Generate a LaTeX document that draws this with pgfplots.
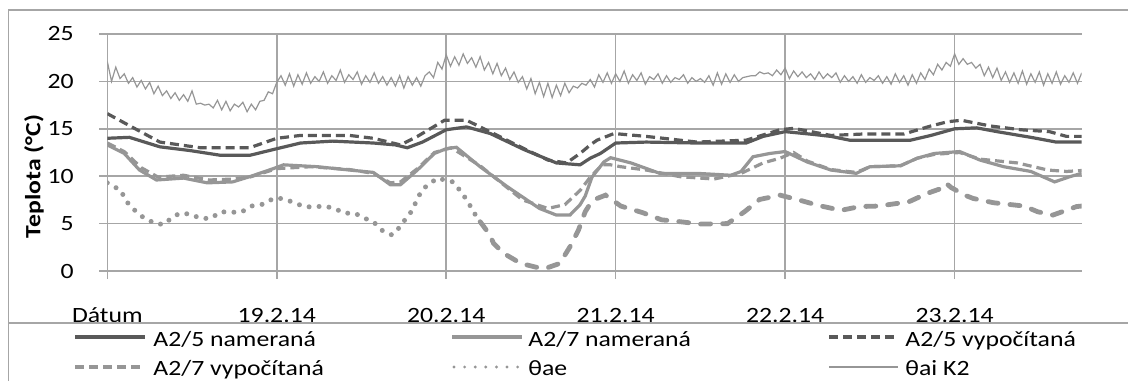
\documentclass[border=0pt]{standalone}
\usepackage{fontspec}
\setmainfont{Carlito}[FakeStretch=1.18]
\usepackage{pgfplots}
\pgfplotsset{compat=1.18}
\definecolor{dk}{RGB}{89,89,89}
\definecolor{lg}{RGB}{150,150,150}
\definecolor{gr}{RGB}{166,166,166}
\begin{document}
\fontsize{10.9pt}{13pt}\selectfont
\begin{tikzpicture}
\begin{axis}[
  at={(53.65pt,55pt)}, anchor=south west,
  scale only axis, width=487.2pt, height=118.5pt,
  xmin=0, xmax=5.75, ymin=0, ymax=25,
  xtick={0,1,2,3,4,5},
  xticklabels={Dátum,19.2.14,20.2.14,21.2.14,22.2.14,23.2.14},
  ytick={0,5,10,15,20,25},
  grid=major, major grid style={gr, line width=0.75pt},
  axis line style={draw=none},
  tick align=outside, major tick length=4pt,
  tick style={gr, line width=0.75pt},
  xtick pos=bottom, ytick pos=left,
  /pgf/number format/assume math mode=true,
  xticklabel style={inner sep=0pt, anchor=base, yshift=-21.85pt},
  yticklabel style={inner sep=0pt, anchor=east, xshift=-12.65pt},
]
% theta ai K2
\addplot[lg, line width=0.6pt] table[row sep=\\, x expr=\coordindex/40, y=t] {
t\\
22.1\\ 20.0\\ 21.5\\ 20.3\\ 20.8\\
19.8\\ 20.4\\ 19.4\\ 20.1\\ 19.2\\ 19.9\\
18.7\\ 19.5\\ 18.5\\ 19.0\\ 18.2\\ 18.8\\ 18.0\\ 18.6\\ 17.9\\ 19.0\\
17.6\\ 17.7\\ 17.5\\ 17.6\\ 17.2\\ 18.0\\ 17.0\\ 17.9\\ 16.9\\ 17.6\\ 17.3\\ 17.8\\ 16.8\\ 17.6\\ 17.0\\ 17.9\\
18.0\\ 18.9\\ 18.7\\ 19.9\\
20.6\\ 19.6\\ 20.8\\ 19.5\\ 20.7\\ 19.7\\ 20.9\\ 19.8\\ 20.5\\ 20.0\\
21.0\\ 19.8\\ 20.6\\ 20.1\\ 21.2\\ 19.9\\ 20.7\\ 20.2\\ 21.0\\ 19.7\\
20.6\\ 19.9\\ 20.9\\ 19.8\\ 20.5\\ 19.6\\ 20.4\\ 19.5\\ 20.6\\ 19.3\\
20.5\\ 19.6\\ 20.4\\ 19.5\\ 20.6\\
21.0\\ 20.4\\ 22.0\\ 21.3\\ 22.8\\ 21.6\\ 22.6\\ 21.7\\ 22.9\\ 21.9\\
22.5\\ 21.5\\ 22.6\\ 21.2\\ 22.0\\ 20.8\\ 21.9\\ 20.6\\ 21.4\\ 20.2\\
21.0\\ 19.9\\ 20.5\\ 19.2\\ 20.3\\ 18.7\\ 19.9\\ 18.4\\ 19.8\\ 18.3\\
19.6\\ 18.5\\ 19.8\\ 18.8\\ 19.5\\ 19.3\\ 19.8\\ 19.6\\ 20.2\\ 19.4\\
20.7\\ 19.9\\ 20.9\\ 19.8\\ 20.8\\
20.0\\ 21.1\\ 19.8\\ 20.7\\ 20.1\\ 20.9\\ 19.7\\ 20.5\\ 20.2\\ 20.8\\
19.8\\ 20.6\\ 19.9\\ 20.4\\ 20.2\\ 20.7\\ 19.8\\ 20.4\\ 20.0\\ 20.3\\
19.9\\ 20.6\\ 19.6\\ 20.9\\ 19.7\\ 20.8\\ 19.9\\ 20.7\\ 20.0\\ 20.4\\
20.5\\ 20.6\\
20.6\\ 21.0\\ 20.8\\ 20.9\\ 20.6\\ 21.2\\ 20.7\\ 21.4\\ 20.3\\ 21.1\\
20.5\\ 21.0\\ 20.4\\ 20.8\\ 20.2\\ 21.0\\ 20.3\\ 20.8\\ 20.4\\ 20.9\\
19.9\\ 20.6\\ 20.0\\ 20.5\\ 19.8\\ 20.7\\ 19.9\\ 20.4\\ 20.1\\ 20.6\\
19.8\\ 20.5\\ 19.7\\ 20.8\\ 19.9\\ 20.6\\ 19.6\\ 20.7\\ 19.8\\ 20.9\\ 20.2\\
21.3\\ 20.7\\ 21.8\\ 21.2\\ 22.0\\ 21.6\\ 22.9\\ 21.8\\ 22.4\\ 21.8\\
22.0\\ 21.4\\ 21.8\\ 20.6\\ 21.5\\ 20.4\\ 21.4\\ 20.1\\
21.0\\ 19.9\\ 20.9\\ 19.8\\ 21.1\\ 19.7\\ 20.8\\ 19.9\\ 21.0\\ 19.6\\
20.8\\ 19.8\\ 21.0\\ 19.7\\ 20.6\\ 19.9\\ 20.9\\ 19.8\\ 20.9\\
};
% theta ae part 1
\addplot[lg, line width=2.5pt, line cap=round, dash pattern=on 0pt off 5pt] coordinates {
(0.0,9.3) (0.08,8.5) (0.11,7.4) (0.15,6.6) (0.2,5.8) (0.25,5.3) (0.29,4.95) (0.34,4.95)
(0.38,5.65) (0.43,6.1) (0.49,6.0) (0.55,5.55) (0.61,5.55) (0.67,6.25) (0.72,6.2) (0.79,6.2)
(0.85,6.85) (0.92,7.05) (0.98,7.65) (1.03,7.65) (1.09,7.3) (1.16,6.8) (1.21,6.75) (1.28,6.85)
(1.34,6.6) (1.4,6.1) (1.46,6.1) (1.52,5.55) (1.57,5.2) (1.62,4.3) (1.68,3.8) (1.73,4.7)
(1.76,5.5) (1.8,6.4) (1.83,7.65) (1.86,8.6) (1.9,9.2) (1.95,9.8) (1.99,9.6) (2.04,9.4)
(2.09,8.3) (2.13,7.25) (2.16,6.25) (2.2,5.2)
};
% theta ae part 2
\addplot[lg, line width=2.4pt, line cap=round, dash pattern=on 5pt off 6pt] coordinates {
(2.2,5.2) (2.25,4.0) (2.28,2.9) (2.34,1.85) (2.44,0.8) (2.53,0.4) (2.59,0.3) (2.67,0.8)
(2.73,2.55) (2.78,4.3) (2.82,6.25) (2.85,7.1) (2.89,7.65) (2.94,8.0) (3.03,6.85) (3.16,6.15)
(3.27,5.4) (3.38,5.2) (3.5,4.95) (3.66,5.0) (3.76,6.25) (3.85,7.55) (3.97,8.0) (4.08,7.5)
(4.2,6.9) (4.33,6.4) (4.44,6.8) (4.55,6.85) (4.73,7.3) (4.84,8.2) (4.92,8.7) (4.95,9.25)
(4.98,8.8) (5.06,8.0) (5.11,7.65) (5.23,7.2) (5.41,6.85) (5.49,6.25) (5.58,5.9) (5.72,6.8) (5.75,6.85)
};
% A2/7 vypocitana
\addplot[lg, line width=1.6pt, dash pattern=on 4.5pt off 2.5pt] coordinates {
(0,13.5) (0.1,12.6) (0.2,10.9) (0.3,9.9) (0.45,10.1) (0.6,9.6) (0.74,9.7) (0.84,9.9)
(1.0,10.8) (1.2,11.0) (1.43,10.7) (1.57,10.3) (1.67,9.3) (1.73,9.4) (1.83,10.8) (1.93,12.5)
(2.03,13.0) (2.2,11.1) (2.45,7.5) (2.6,6.6) (2.7,7.0) (2.79,8.5) (2.85,9.9) (2.92,11.2)
(2.97,11.2) (3.03,11.0) (3.18,10.65) (3.38,9.95) (3.58,9.7) (3.74,10.3) (3.87,11.4) (3.97,11.9)
(4.05,12.5) (4.13,11.6) (4.27,10.7) (4.42,10.4) (4.5,11.0) (4.68,11.1) (4.78,11.9) (4.88,12.3)
(5.03,12.5) (5.15,11.8) (5.37,11.4) (5.55,10.65) (5.66,10.5) (5.75,10.6)
};
% A2/7 namerana
\addplot[lg, line width=1.6pt] coordinates {
(0,13.3) (0.1,12.4) (0.19,10.65) (0.29,9.6) (0.45,9.8) (0.59,9.3) (0.74,9.4) (0.84,9.95)
(0.98,10.8) (1.04,11.2) (1.24,11.0) (1.43,10.65) (1.57,10.4) (1.67,9.1) (1.73,9.1) (1.83,10.65)
(1.93,12.4) (2.0,12.9) (2.06,13.05) (2.2,11.0) (2.36,8.9) (2.55,6.6) (2.65,5.9) (2.73,5.9)
(2.79,7.0) (2.82,7.9) (2.86,9.9) (2.93,11.5) (2.97,11.95) (3.09,11.4) (3.26,10.3) (3.48,10.3)
(3.68,10.1) (3.74,10.5) (3.81,12.05) (3.91,12.4) (4.0,12.6) (4.13,11.5) (4.27,10.65) (4.42,10.3)
(4.5,11.0) (4.68,11.1) (4.78,11.9) (4.88,12.4) (5.03,12.6) (5.15,11.7) (5.29,11.0) (5.45,10.5)
(5.59,9.4) (5.68,9.95) (5.75,10.3)
};
% A2/5 vypocitana
\addplot[dk, line width=1.6pt, dash pattern=on 4.5pt off 2.5pt] coordinates {
(0,16.6) (0.16,15.05) (0.31,13.6) (0.55,13.0) (0.84,13.0) (1.0,14.0) (1.14,14.3) (1.43,14.3)
(1.57,14.0) (1.73,13.3) (1.83,14.2) (1.99,15.9) (2.12,15.9) (2.2,15.2) (2.46,12.9) (2.6,11.7)
(2.71,11.4) (2.79,12.4) (2.85,13.3) (2.89,13.8) (2.99,14.5) (3.18,14.2) (3.48,13.6) (3.77,13.8)
(3.97,14.9) (4.05,15.05) (4.27,14.3) (4.46,14.45) (4.7,14.45) (4.86,15.3) (4.96,15.75) (5.04,15.9)
(5.21,15.3) (5.39,14.9) (5.56,14.7) (5.66,14.2) (5.75,14.2)
};
% A2/5 namerana
\addplot[dk, line width=1.6pt] coordinates {
(0,14.0) (0.13,14.1) (0.22,13.6) (0.31,13.1) (0.49,12.7) (0.67,12.2) (0.84,12.2) (1.0,12.9)
(1.14,13.5) (1.33,13.7) (1.57,13.5) (1.70,13.3) (1.77,13.0) (1.86,13.6) (2.0,14.9) (2.12,15.2)
(2.26,14.5) (2.46,12.8) (2.65,11.4) (2.79,11.2) (2.85,11.9) (2.91,12.4) (3.0,13.5) (3.18,13.6)
(3.48,13.5) (3.77,13.5) (3.87,14.2) (4.0,14.7) (4.17,14.4) (4.27,14.2) (4.38,13.8) (4.74,13.8)
(4.86,14.3) (5.0,15.0) (5.13,15.1) (5.25,14.7) (5.45,14.1) (5.6,13.6) (5.75,13.6)
};
\end{axis}
\node[rotate=90, font=\bfseries] at (17pt,102.25pt) {Teplota (°C)};
% frame
\draw[gr, line width=0.75pt] (4.15pt,0pt) -- (4.15pt,185.5pt) -- (564pt,185.5pt);
\draw[gr, line width=0.75pt] (4.15pt,29pt) -- (564pt,29pt);
% legend
\draw[dk, line width=1.6pt] (37.5pt,22pt) -- (72.5pt,22pt);
\node[anchor=base west, inner sep=0pt] at (76.5pt,17.5pt) {A2/5 nameraná};
\draw[lg, line width=1.6pt] (226pt,22pt) -- (261pt,22pt);
\node[anchor=base west, inner sep=0pt] at (264pt,17.5pt) {A2/7 nameraná};
\draw[dk, line width=1.6pt, dash pattern=on 4.5pt off 2.5pt] (414.5pt,22pt) -- (449pt,22pt);
\node[anchor=base west, inner sep=0pt] at (452.5pt,17.5pt) {A2/5 vypočítaná};
\draw[lg, line width=1.6pt, dash pattern=on 4.5pt off 2.5pt] (37.5pt,7pt) -- (72.5pt,7pt);
\node[anchor=base west, inner sep=0pt] at (76.5pt,2.6pt) {A2/7 vypočítaná};
\draw[lg, line width=1.6pt, line cap=round, dash pattern=on 0pt off 5.3pt] (227pt,7pt) -- (261pt,7pt);
\node[anchor=base west, inner sep=0pt] at (264pt,2.6pt) {θae};
\draw[lg, line width=0.75pt] (414.5pt,7pt) -- (449pt,7pt);
\node[anchor=base west, inner sep=0pt] at (452.5pt,2.6pt) {θai K2};
\pgfresetboundingbox
\path[use as bounding box] (0pt,0pt) rectangle (564pt,190.5pt);
\end{tikzpicture}
\end{document}
